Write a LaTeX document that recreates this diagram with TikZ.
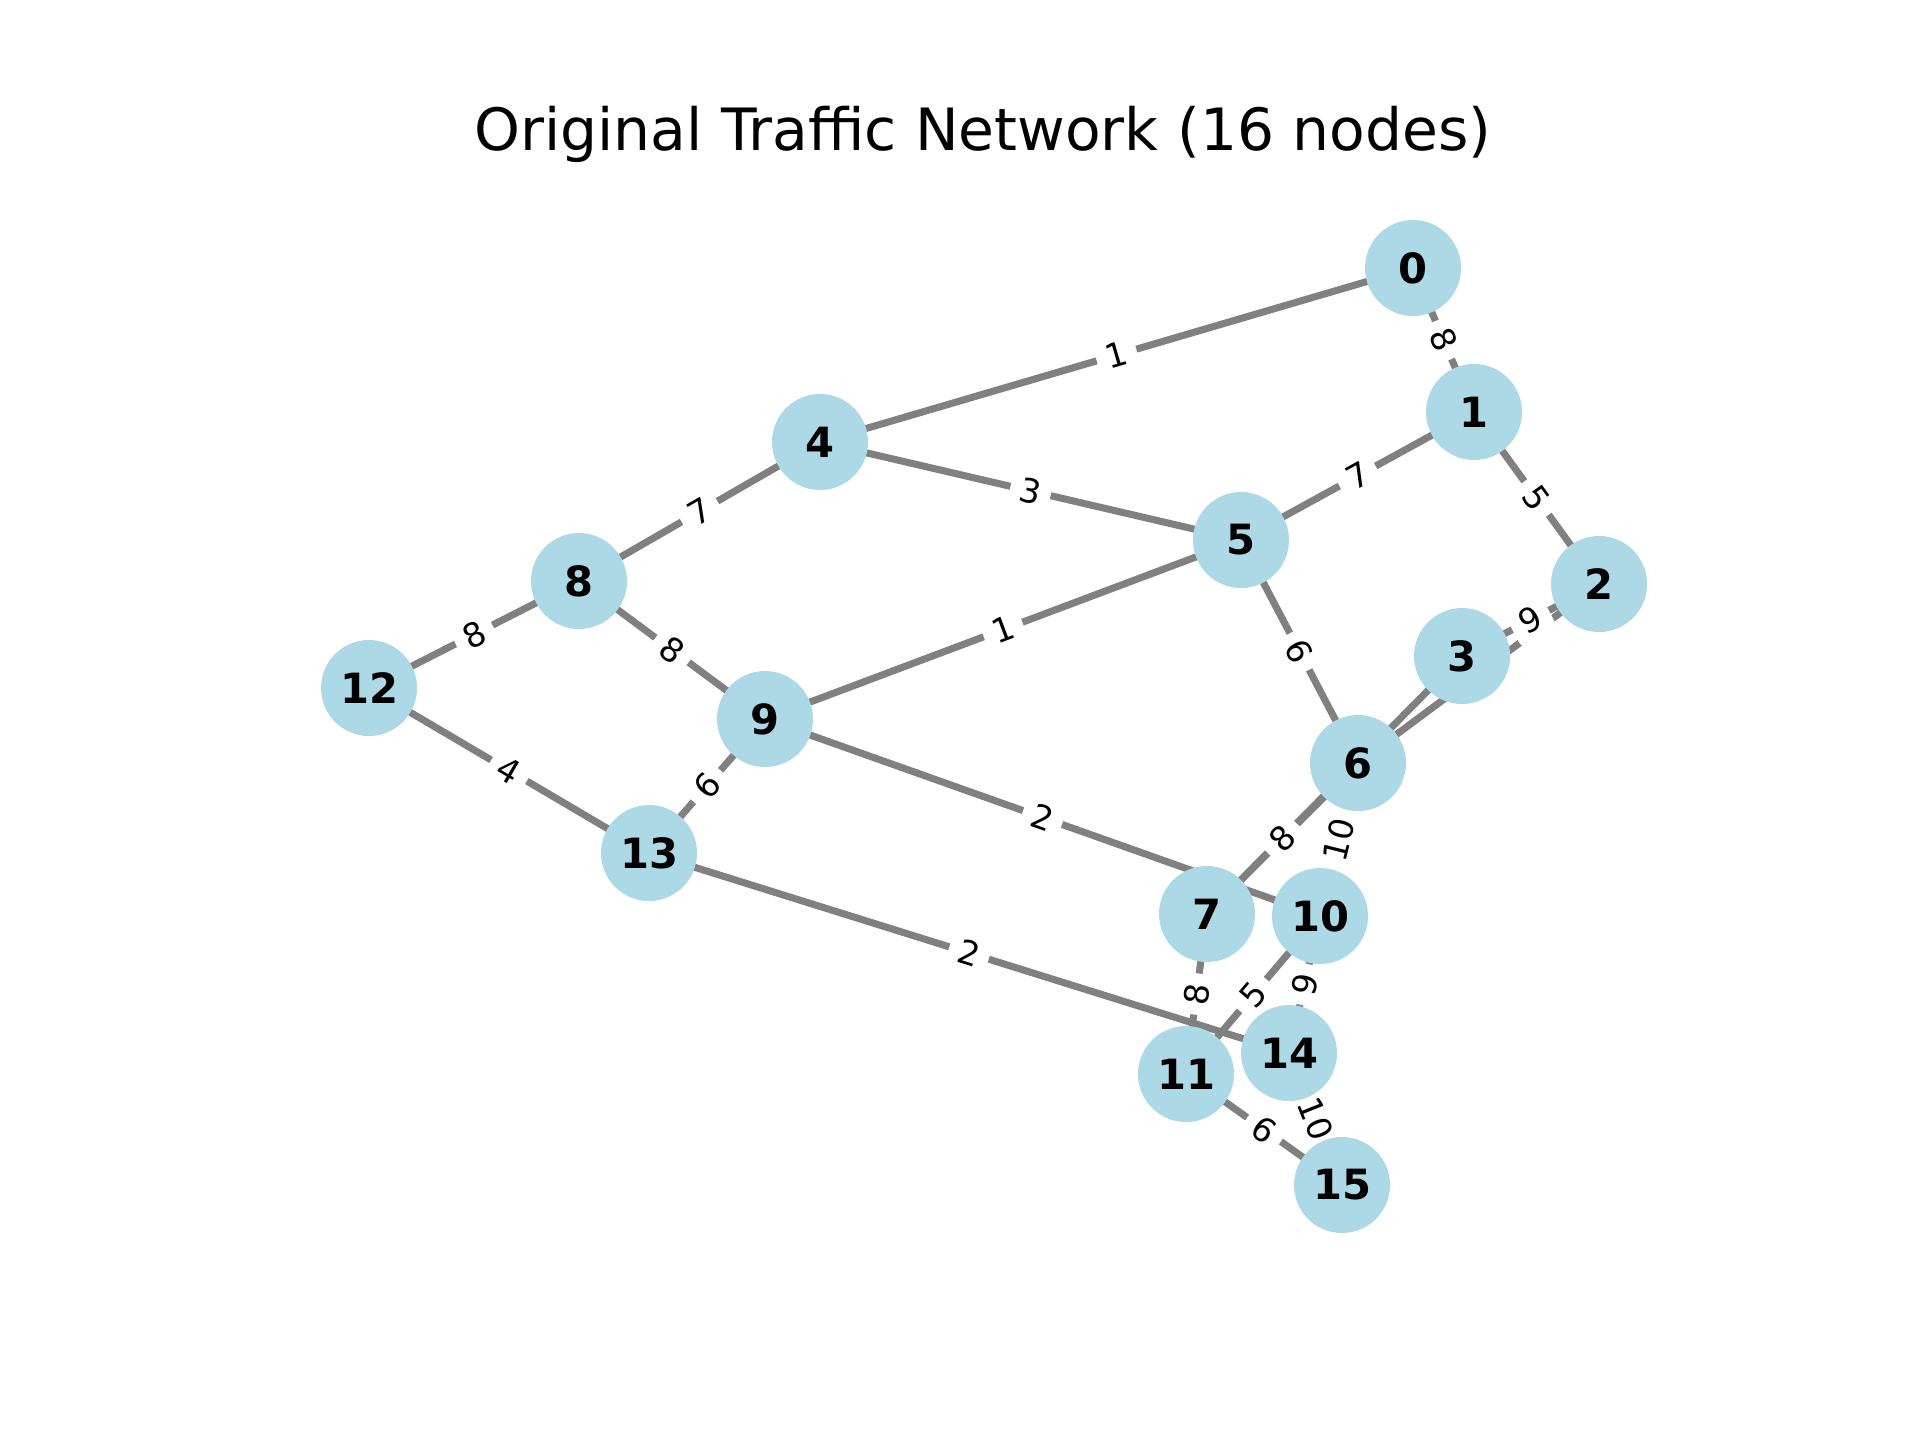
\documentclass[tikz,border=0pt]{standalone}
\usepackage{fontspec}
\setmainfont{DejaVu Sans}
\usepackage{xcolor}
\usepackage{tikz}
\definecolor{lightblue}{HTML}{ADD8E6}
\definecolor{roadgray}{HTML}{808080}
\pgfdeclarelayer{roads}
\pgfdeclarelayer{weights}
\pgfsetlayers{roads,weights,main}

\begin{document}
\begin{tikzpicture}[x=0.0846667mm,y=-0.0846667mm,
city/.style={circle,fill=lightblue,minimum size=8.13mm,inner sep=0pt,font=\fontsize{10bp}{12bp}\selectfont\bfseries},
road/.style={draw=roadgray,line width=1.7pt},
wt/.style={sloped,fill=white,rounded corners=2pt,inner sep=2.4bp,font=\fontsize{8bp}{9.6bp}\selectfont}]
\useasboundingbox (0,0) rectangle (1920,1440);
\node[anchor=base,font=\fontsize{14bp}{17bp}\selectfont](title) at (983,150){Original Traffic Network (16 nodes)};
\node[city](n0) at (1413,268){0};
\node[city](n1) at (1474,412){1};
\node[city](n2) at (1599,584){2};
\node[city](n3) at (1462,656){3};
\node[city](n4) at (820,442){4};
\node[city](n5) at (1241,540){5};
\node[city](n6) at (1358,763){6};
\node[city](n7) at (1207,914){7};
\node[city](n8) at (579,581){8};
\node[city](n9) at (765,719){9};
\node[city](n10) at (1320,916){10};
\node[city](n11) at (1186,1074){11};
\node[city](n12) at (369,688){12};
\node[city](n13) at (649,853){13};
\node[city](n14) at (1289,1053){14};
\node[city](n15) at (1342,1185){15};
\begin{pgfonlayer}{roads}
\draw[road](n0.center)--(n4.center) (n0.center)--(n1.center)
(n1.center)--(n5.center) (n1.center)--(n2.center)
(n2.center)--(n3.center) (n2.center)--(n6.center)
(n3.center)--(n7.center) (n4.center)--(n5.center)
(n4.center)--(n8.center) (n5.center)--(n9.center)
(n5.center)--(n6.center) (n6.center)--(n7.center)
(n6.center)--(n10.center) (n7.center)--(n11.center)
(n8.center)--(n12.center) (n8.center)--(n9.center)
(n9.center)--(n13.center) (n9.center)--(n10.center)
(n10.center)--(n11.center) (n10.center)--(n14.center)
(n11.center)--(n15.center) (n12.center)--(n13.center)
(n13.center)--(n14.center) (n14.center)--(n15.center);
\end{pgfonlayer}
\begin{pgfonlayer}{weights}
\path(n0.center)--node[wt]{1}(n4.center) (n0.center)--node[wt]{8}(n1.center)
(n1.center)--node[wt]{7}(n5.center) (n1.center)--node[wt]{5}(n2.center)
(n2.center)--node[wt]{9}(n3.center) (n4.center)--node[wt]{3}(n5.center)
(n4.center)--node[wt]{7}(n8.center) (n5.center)--node[wt]{1}(n9.center)
(n5.center)--node[wt]{6}(n6.center) (n6.center)--node[wt]{8}(n7.center)
(n6.center)--node[wt]{10}(n10.center) (n7.center)--node[wt]{8}(n11.center)
(n8.center)--node[wt]{8}(n12.center) (n8.center)--node[wt]{8}(n9.center)
(n9.center)--node[wt]{6}(n13.center) (n9.center)--node[wt]{2}(n10.center)
(n10.center)--node[wt]{5}(n11.center) (n10.center)--node[wt]{9}(n14.center)
(n11.center)--node[wt]{6}(n15.center) (n12.center)--node[wt]{4}(n13.center)
(n13.center)--node[wt]{2}(n14.center) (n14.center)--node[wt]{10}(n15.center);
\end{pgfonlayer}
\end{tikzpicture}
\end{document}
